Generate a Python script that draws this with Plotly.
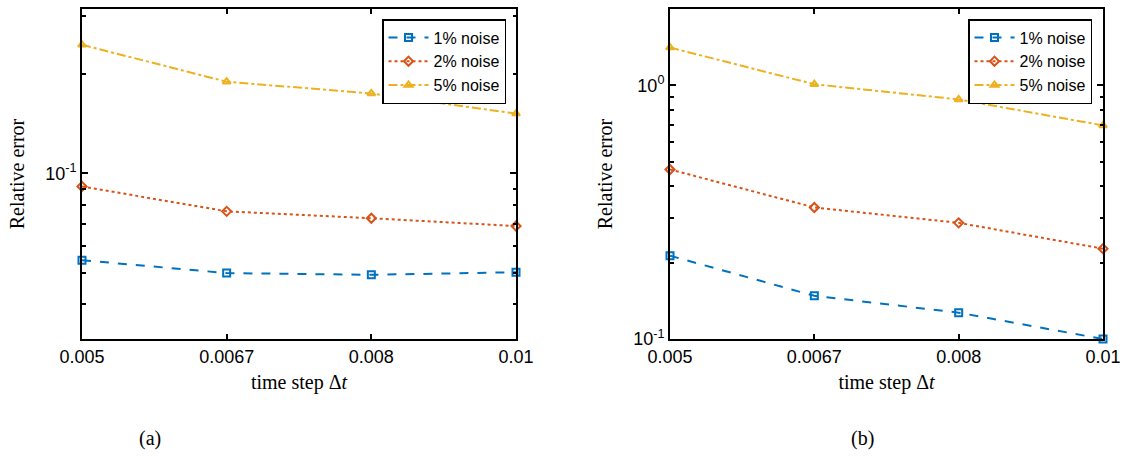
import plotly.graph_objects as go
import math

# ---- data ----
time_steps = ["0.005", "0.0067", "0.008", "0.01"]
series_names = ["1% noise", "2% noise", "5% noise"]

# panel (a)
a_noise1 = [0.0545, 0.0498, 0.0492, 0.0501]
a_noise2 = [0.0913, 0.0767, 0.0731, 0.0692]
a_noise5 = [0.246, 0.190, 0.175, 0.152]

# panel (b)
b_noise1 = [0.213, 0.148, 0.127, 0.100]
b_noise2 = [0.466, 0.330, 0.287, 0.227]
b_noise5 = [1.41, 1.01, 0.880, 0.695]

a_major = [0.1]
a_major_text = ["10<sup>-1</sup>"]
a_minor = [0.04, 0.05, 0.06, 0.07, 0.08, 0.09, 0.2, 0.3]
b_major = [0.1, 1.0]
b_major_text = ["10<sup>-1</sup>", "10<sup>0</sup>"]
b_minor = [0.2, 0.3, 0.4, 0.5, 0.6, 0.7, 0.8, 0.9, 2.0]

colors = ["#0072BD", "#D95319", "#EDB120"]
dashes = ["dash", "dot", "dashdot"]
symbols = ["square-open", "diamond-open", "triangle-up-open"]

fig = go.Figure()

panels = [
    ("x", "y", "legend", [a_noise1, a_noise2, a_noise5]),
    ("x2", "y2", "legend2", [b_noise1, b_noise2, b_noise5]),
]
for xa, ya, lg, data in panels:
    for i, vals in enumerate(data):
        fig.add_trace(go.Scatter(
            x=time_steps, y=vals, xaxis=xa, yaxis=ya, legend=lg,
            name=series_names[i], mode="lines+markers",
            line=dict(color=colors[i], dash=dashes[i], width=2),
            marker=dict(symbol=symbols[i], size=7, color=colors[i],
                        line=dict(width=2, color=colors[i])),
            cliponaxis=False,
        ))

tickfont = dict(family="Liberation Sans, Arial, sans-serif", size=18, color="black")
serif = dict(family="Liberation Serif, Times New Roman, serif", size=20, color="black")

common_x = dict(
    type="category", range=[0, 3], showline=True, linecolor="black", linewidth=2,
    mirror="allticks", ticks="inside", ticklen=5, tickwidth=1.5, tickcolor="black",
    tickfont=tickfont, showgrid=False, zeroline=False, automargin=False,
    title=dict(text="time step Δ<i>t</i>", font=serif, standoff=9),
)
fig.update_layout(
    xaxis=dict(domain=[82/1126, 516/1126], anchor="y", **common_x),
    xaxis2=dict(domain=[670/1126, 1103/1126], anchor="y2", **common_x),
)


def yaxis(domain_anchor, rng, tickvals, ticktext, minor_vals):
    return dict(
        type="log", range=rng, domain=[1-339/456, 1-9/456], anchor=domain_anchor,
        showline=True, linecolor="black", linewidth=2, mirror="allticks",
        ticks="inside", ticklen=6, tickwidth=1.5, tickcolor="black",
        tickmode="array", tickvals=tickvals, ticktext=ticktext,
        tickfont=tickfont, showgrid=False, zeroline=False, automargin=False,
        minor=dict(tickmode="array", tickvals=minor_vals, ticks="inside",
                   ticklen=3.5, tickwidth=1.5, tickcolor="black", showgrid=False),
        title=dict(text="Relative error", font=serif, standoff=15),
    )

fig.update_layout(
    yaxis=yaxis("x", [math.log10(0.0314), math.log10(0.316)], a_major, a_major_text, a_minor),
    yaxis2=yaxis("x2", [-1, math.log10(2.0)], b_major, b_major_text, b_minor),
)

legend_style = dict(
    bgcolor="white", bordercolor="black", borderwidth=1.5,
    font=dict(family="Liberation Sans, Arial, sans-serif", size=16, color="black"),
    xanchor="right", yanchor="top", tracegroupgap=0, itemwidth=40,
)
fig.update_layout(
    legend=dict(x=506/1126, y=1-19/456, **legend_style),
    legend2=dict(x=1092/1126, y=1-19/456, **legend_style),
)

cap_font = dict(family="Liberation Serif, serif", size=20, color="black")
fig.add_annotation(text="(a)", x=150/1126, y=1-438/456, xref="paper", yref="paper",
                   xanchor="center", yanchor="middle", showarrow=False, font=cap_font)
fig.add_annotation(text="(b)", x=862/1126, y=1-438/456, xref="paper", yref="paper",
                   xanchor="center", yanchor="middle", showarrow=False, font=cap_font)

fig.update_layout(
    width=1126, height=456, margin=dict(l=0, r=0, t=0, b=0),
    paper_bgcolor="white", plot_bgcolor="white", showlegend=True,
)

fig.write_html("out.html", config={"displayModeBar": False},
               post_script="document.body.style.margin='0px';document.body.style.overflow='hidden';")
